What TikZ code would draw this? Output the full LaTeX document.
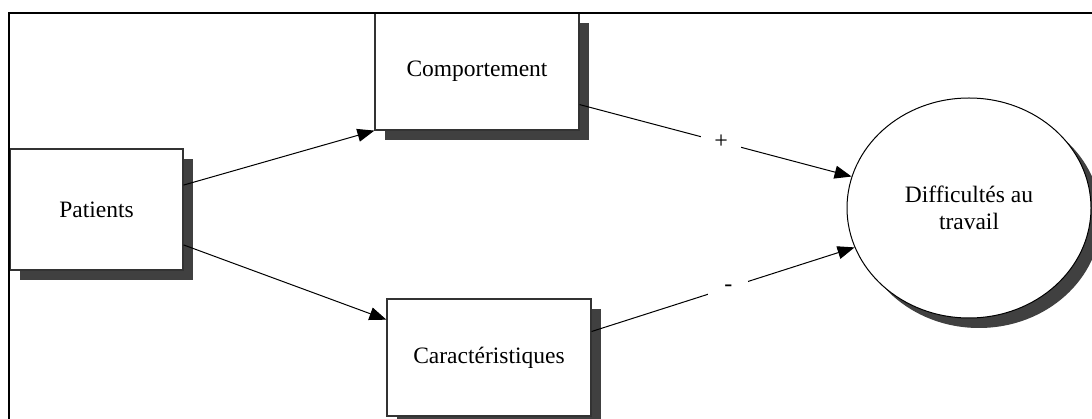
\documentclass[tikz,border=0pt]{standalone}
\usepackage{fontspec}
\setmainfont{Liberation Serif}
\usetikzlibrary{arrows.meta,shapes.geometric,shadows,calc}

\definecolor{shadowgray}{HTML}{404040}
\definecolor{edgegray}{HTML}{333333}

\tikzset{
  boxshadow/.style={drop shadow={shadow xshift=10pt,shadow yshift=-10pt,fill=shadowgray,opacity=1}},
  conceptbox/.style={rectangle,draw=edgegray,line width=1.2pt,fill=white,boxshadow,
    inner sep=0pt,font=\fontsize{23.5}{27}\selectfont},
  outcome/.style={ellipse,draw=black,line width=1pt,fill=white,boxshadow,
    inner sep=0pt,align=center,font=\fontsize{23.5}{27.5}\selectfont},
  link/.style={draw=black,line width=1pt,-{Triangle[length=17pt,width=13pt]}},
  signlabel/.style={fill=white,minimum width=40pt,minimum height=14pt,inner sep=0pt,
    font=\fontsize{24}{24}\selectfont}
}

\begin{document}
\begin{tikzpicture}[x=1pt,y=-1pt]
\useasboundingbox (0,0) rectangle (1092,419);
\fill[white] (0,0) rectangle (1092,419);

% concepts
\node[conceptbox,minimum width=173pt,minimum height=121pt] (pat) at (96.5,209.5) {Patients};
\node[conceptbox,minimum width=204pt,minimum height=117pt] (comp) at (477,71.5) {Comportement};
\node[conceptbox,minimum width=204pt,minimum height=117pt] (car) at (489,357.5) {Caractéristiques};
\node[outcome,minimum width=244pt,minimum height=220pt] (dif) at (969,208) {Difficultés au\\travail};

% influences
\draw[link] ($(pat.north east)!0.30!(pat.south east)$) -- (comp.south west);
\draw[link] ($(pat.north east)!0.79!(pat.south east)$) -- ($(car.north west)!0.18!(car.south west)$);
\draw[link] ($(comp.north east)!0.78!(comp.south east)$) -- (dif.165.5)
  node[signlabel,pos=0.52] (plus) {+};
\draw[link] ($(car.north east)!0.28!(car.south east)$) -- (dif.199.3)
  node[signlabel,pos=0.52] (minus) {-};

% frame
\draw[line width=2pt,line cap=rect] (8.5,419) -- (8.5,12.7) -- (1092,12.7);
\end{tikzpicture}
\end{document}
